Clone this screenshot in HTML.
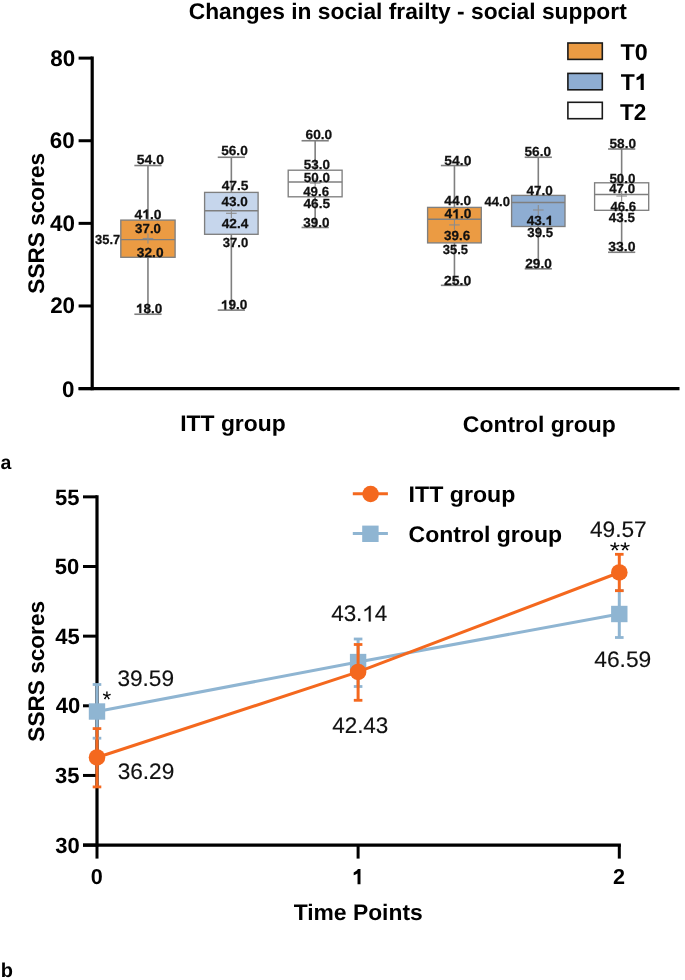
<!DOCTYPE html>
<html><head><meta charset="utf-8"><style>
html,body{margin:0;padding:0;background:#fff;}
svg{display:block;will-change:transform;filter:blur(0.4px);}
text{font-family:"Liberation Sans",sans-serif;text-rendering:geometricPrecision;}
</style></head><body>
<svg width="685" height="980" viewBox="0 0 685 980">
<rect width="685" height="980" fill="#fff"/>
<line x1="92.20" y1="56.62" x2="92.20" y2="390.20" stroke="#000" stroke-width="3.2"/>
<line x1="78.60" y1="388.60" x2="92.20" y2="388.60" stroke="#000" stroke-width="3.0"/>
<line x1="78.60" y1="305.98" x2="92.20" y2="305.98" stroke="#000" stroke-width="3.0"/>
<line x1="78.60" y1="223.36" x2="92.20" y2="223.36" stroke="#000" stroke-width="3.0"/>
<line x1="78.60" y1="140.74" x2="92.20" y2="140.74" stroke="#000" stroke-width="3.0"/>
<line x1="78.60" y1="58.12" x2="92.20" y2="58.12" stroke="#000" stroke-width="3.0"/>
<line x1="78.60" y1="388.60" x2="679.50" y2="388.60" stroke="#000" stroke-width="3.2"/>
<rect x="567.9" y="43.0" width="34.4" height="16.4" fill="#EB9B43" stroke="#1a1a1a" stroke-width="1.6"/>
<rect x="567.9" y="73.4" width="34.4" height="16.4" fill="#8EADD2" stroke="#1a1a1a" stroke-width="1.6"/>
<rect x="567.9" y="102.3" width="34.4" height="16.4" fill="#FFFFFF" stroke="#1a1a1a" stroke-width="1.6"/>
<line x1="147.95" y1="165.53" x2="147.95" y2="220.10" stroke="#7f7f7f" stroke-width="1.6"/>
<line x1="147.95" y1="257.30" x2="147.95" y2="314.24" stroke="#7f7f7f" stroke-width="1.6"/>
<line x1="134.35" y1="165.53" x2="161.55" y2="165.53" stroke="#7f7f7f" stroke-width="1.6"/>
<line x1="134.35" y1="314.24" x2="161.55" y2="314.24" stroke="#7f7f7f" stroke-width="1.6"/>
<rect x="120.80" y="220.10" width="54.30" height="37.20" fill="#EB9B43" stroke="#7f7f7f" stroke-width="1.35"/>
<line x1="120.80" y1="239.60" x2="175.10" y2="239.60" stroke="#7f7f7f" stroke-width="1.35"/>
<line x1="142.65" y1="238.50" x2="153.25" y2="238.50" stroke="#8c8c8c" stroke-width="1.1"/>
<line x1="147.95" y1="233.60" x2="147.95" y2="243.40" stroke="#8c8c8c" stroke-width="1.1"/>
<line x1="231.35" y1="157.26" x2="231.35" y2="192.40" stroke="#7f7f7f" stroke-width="1.6"/>
<line x1="231.35" y1="234.30" x2="231.35" y2="310.11" stroke="#7f7f7f" stroke-width="1.6"/>
<line x1="217.75" y1="157.26" x2="244.95" y2="157.26" stroke="#7f7f7f" stroke-width="1.6"/>
<line x1="217.75" y1="310.11" x2="244.95" y2="310.11" stroke="#7f7f7f" stroke-width="1.6"/>
<rect x="204.60" y="192.40" width="53.50" height="41.90" fill="#C6D6EC" stroke="#7f7f7f" stroke-width="1.35"/>
<line x1="204.60" y1="210.70" x2="258.10" y2="210.70" stroke="#7f7f7f" stroke-width="1.35"/>
<line x1="226.05" y1="213.30" x2="236.65" y2="213.30" stroke="#8c8c8c" stroke-width="1.1"/>
<line x1="231.35" y1="208.40" x2="231.35" y2="218.20" stroke="#8c8c8c" stroke-width="1.1"/>
<line x1="315.15" y1="140.74" x2="315.15" y2="170.20" stroke="#7f7f7f" stroke-width="1.6"/>
<line x1="315.15" y1="196.80" x2="315.15" y2="227.49" stroke="#7f7f7f" stroke-width="1.6"/>
<line x1="301.55" y1="140.74" x2="328.75" y2="140.74" stroke="#7f7f7f" stroke-width="1.6"/>
<line x1="301.55" y1="227.49" x2="328.75" y2="227.49" stroke="#7f7f7f" stroke-width="1.6"/>
<rect x="288.20" y="170.20" width="53.90" height="26.60" fill="#FFFFFF" stroke="#7f7f7f" stroke-width="1.35"/>
<line x1="288.20" y1="182.00" x2="342.10" y2="182.00" stroke="#7f7f7f" stroke-width="1.35"/>
<line x1="309.85" y1="183.10" x2="320.45" y2="183.10" stroke="#8c8c8c" stroke-width="1.1"/>
<line x1="315.15" y1="178.20" x2="315.15" y2="188.00" stroke="#8c8c8c" stroke-width="1.1"/>
<line x1="454.45" y1="165.53" x2="454.45" y2="207.40" stroke="#7f7f7f" stroke-width="1.6"/>
<line x1="454.45" y1="242.90" x2="454.45" y2="285.33" stroke="#7f7f7f" stroke-width="1.6"/>
<line x1="440.85" y1="165.53" x2="468.05" y2="165.53" stroke="#7f7f7f" stroke-width="1.6"/>
<line x1="440.85" y1="285.33" x2="468.05" y2="285.33" stroke="#7f7f7f" stroke-width="1.6"/>
<rect x="427.60" y="207.40" width="53.70" height="35.50" fill="#EB9B43" stroke="#7f7f7f" stroke-width="1.35"/>
<line x1="427.60" y1="219.20" x2="481.30" y2="219.20" stroke="#7f7f7f" stroke-width="1.35"/>
<line x1="449.15" y1="224.90" x2="459.75" y2="224.90" stroke="#8c8c8c" stroke-width="1.1"/>
<line x1="454.45" y1="220.00" x2="454.45" y2="229.80" stroke="#8c8c8c" stroke-width="1.1"/>
<line x1="538.30" y1="157.26" x2="538.30" y2="195.40" stroke="#7f7f7f" stroke-width="1.6"/>
<line x1="538.30" y1="226.50" x2="538.30" y2="268.80" stroke="#7f7f7f" stroke-width="1.6"/>
<line x1="524.70" y1="157.26" x2="551.90" y2="157.26" stroke="#7f7f7f" stroke-width="1.6"/>
<line x1="524.70" y1="268.80" x2="551.90" y2="268.80" stroke="#7f7f7f" stroke-width="1.6"/>
<rect x="511.60" y="195.40" width="53.40" height="31.10" fill="#8EADD2" stroke="#7f7f7f" stroke-width="1.35"/>
<line x1="511.60" y1="202.50" x2="565.00" y2="202.50" stroke="#7f7f7f" stroke-width="1.35"/>
<line x1="533.00" y1="210.00" x2="543.60" y2="210.00" stroke="#8c8c8c" stroke-width="1.1"/>
<line x1="538.30" y1="205.10" x2="538.30" y2="214.90" stroke="#8c8c8c" stroke-width="1.1"/>
<line x1="621.65" y1="149.00" x2="621.65" y2="182.80" stroke="#7f7f7f" stroke-width="1.6"/>
<line x1="621.65" y1="210.30" x2="621.65" y2="252.28" stroke="#7f7f7f" stroke-width="1.6"/>
<line x1="608.05" y1="149.00" x2="635.25" y2="149.00" stroke="#7f7f7f" stroke-width="1.6"/>
<line x1="608.05" y1="252.28" x2="635.25" y2="252.28" stroke="#7f7f7f" stroke-width="1.6"/>
<rect x="594.60" y="182.80" width="54.10" height="27.50" fill="#FFFFFF" stroke="#7f7f7f" stroke-width="1.35"/>
<line x1="594.60" y1="194.50" x2="648.70" y2="194.50" stroke="#7f7f7f" stroke-width="1.35"/>
<line x1="616.35" y1="196.00" x2="626.95" y2="196.00" stroke="#8c8c8c" stroke-width="1.1"/>
<line x1="621.65" y1="191.10" x2="621.65" y2="200.90" stroke="#8c8c8c" stroke-width="1.1"/>
<line x1="97.00" y1="495.35" x2="97.00" y2="846.60" stroke="#000" stroke-width="3.2"/>
<line x1="83.00" y1="845.10" x2="97.00" y2="845.10" stroke="#000" stroke-width="3.0"/>
<line x1="83.00" y1="775.45" x2="97.00" y2="775.45" stroke="#000" stroke-width="3.0"/>
<line x1="83.00" y1="705.80" x2="97.00" y2="705.80" stroke="#000" stroke-width="3.0"/>
<line x1="83.00" y1="636.15" x2="97.00" y2="636.15" stroke="#000" stroke-width="3.0"/>
<line x1="83.00" y1="566.50" x2="97.00" y2="566.50" stroke="#000" stroke-width="3.0"/>
<line x1="83.00" y1="496.85" x2="97.00" y2="496.85" stroke="#000" stroke-width="3.0"/>
<line x1="83.00" y1="845.10" x2="620.90" y2="845.10" stroke="#000" stroke-width="3.2"/>
<line x1="97.00" y1="845.10" x2="97.00" y2="858.60" stroke="#000" stroke-width="3.0"/>
<line x1="358.10" y1="845.10" x2="358.10" y2="858.60" stroke="#000" stroke-width="3.0"/>
<line x1="619.30" y1="845.10" x2="619.30" y2="858.60" stroke="#000" stroke-width="3.0"/>
<polyline points="97.0,711.51 358.1,662.06 619.3,614.00" fill="none" stroke="#8FB5D2" stroke-width="3"/>
<line x1="97.00" y1="684.50" x2="97.00" y2="738.20" stroke="#8FB5D2" stroke-width="3"/>
<line x1="92.70" y1="684.50" x2="101.30" y2="684.50" stroke="#8FB5D2" stroke-width="2.8"/>
<line x1="92.70" y1="738.20" x2="101.30" y2="738.20" stroke="#8FB5D2" stroke-width="2.8"/>
<rect x="88.80" y="703.31" width="16.4" height="16.4" fill="#8FB5D2"/>
<line x1="358.10" y1="639.00" x2="358.10" y2="686.50" stroke="#8FB5D2" stroke-width="3"/>
<line x1="353.80" y1="639.00" x2="362.40" y2="639.00" stroke="#8FB5D2" stroke-width="2.8"/>
<line x1="353.80" y1="686.50" x2="362.40" y2="686.50" stroke="#8FB5D2" stroke-width="2.8"/>
<rect x="349.90" y="653.86" width="16.4" height="16.4" fill="#8FB5D2"/>
<line x1="619.30" y1="590.60" x2="619.30" y2="637.50" stroke="#8FB5D2" stroke-width="3"/>
<line x1="615.00" y1="590.60" x2="623.60" y2="590.60" stroke="#8FB5D2" stroke-width="2.8"/>
<line x1="615.00" y1="637.50" x2="623.60" y2="637.50" stroke="#8FB5D2" stroke-width="2.8"/>
<rect x="611.10" y="605.80" width="16.4" height="16.4" fill="#8FB5D2"/>
<polyline points="97.0,757.48 358.1,671.95 619.3,572.49" fill="none" stroke="#F4681E" stroke-width="3"/>
<line x1="97.00" y1="728.60" x2="97.00" y2="786.90" stroke="#F4681E" stroke-width="3"/>
<line x1="92.70" y1="728.60" x2="101.30" y2="728.60" stroke="#F4681E" stroke-width="2.8"/>
<line x1="92.70" y1="786.90" x2="101.30" y2="786.90" stroke="#F4681E" stroke-width="2.8"/>
<circle cx="97.0" cy="757.48" r="8.3" fill="#F4681E"/>
<line x1="358.10" y1="644.50" x2="358.10" y2="700.30" stroke="#F4681E" stroke-width="3"/>
<line x1="353.80" y1="644.50" x2="362.40" y2="644.50" stroke="#F4681E" stroke-width="2.8"/>
<line x1="353.80" y1="700.30" x2="362.40" y2="700.30" stroke="#F4681E" stroke-width="2.8"/>
<circle cx="358.1" cy="671.95" r="8.3" fill="#F4681E"/>
<line x1="619.30" y1="554.30" x2="619.30" y2="590.70" stroke="#F4681E" stroke-width="3"/>
<line x1="615.00" y1="554.30" x2="623.60" y2="554.30" stroke="#F4681E" stroke-width="2.8"/>
<line x1="615.00" y1="590.70" x2="623.60" y2="590.70" stroke="#F4681E" stroke-width="2.8"/>
<circle cx="619.3" cy="572.49" r="8.3" fill="#F4681E"/>
<line x1="352.80" y1="493.80" x2="387.90" y2="493.80" stroke="#F4681E" stroke-width="3"/>
<circle cx="370.6" cy="494" r="8.3" fill="#F4681E"/>
<line x1="352.80" y1="533.60" x2="387.90" y2="533.60" stroke="#8FB5D2" stroke-width="3"/>
<rect x="362.2" y="525.6" width="16.4" height="16.4" fill="#8FB5D2"/>
<g id="title" class="t"><text x="188.71" y="19.38" font-size="22.60" font-weight="bold" fill="#000" textLength="438.04" lengthAdjust="spacingAndGlyphs">Changes in social frailty - social support</text></g>
<g id="ya80" class="t"><text x="50.19" y="65.74" font-size="22.40" font-weight="bold" fill="#000">80</text></g>
<g id="ya60" class="t"><text x="49.73" y="148.24" font-size="22.40" font-weight="bold" fill="#000">60</text></g>
<g id="ya40" class="t"><text x="49.96" y="230.75" font-size="22.40" font-weight="bold" fill="#000">40</text></g>
<g id="ya20" class="t"><text x="50.13" y="313.26" font-size="22.40" font-weight="bold" fill="#000">20</text></g>
<g id="ya0" class="t"><text x="61.89" y="396.57" font-size="22.40" font-weight="bold" fill="#000">0</text></g>
<g id="cat_itt" class="t"><text x="180.22" y="431.34" font-size="22.50" font-weight="bold" fill="#000" textLength="105.50" lengthAdjust="spacingAndGlyphs">ITT group</text></g>
<g id="cat_ctl" class="t"><text x="462.83" y="432.01" font-size="22.50" font-weight="bold" fill="#000" textLength="153.06" lengthAdjust="spacingAndGlyphs">Control group</text></g>
<g id="T0" class="t"><text x="620.45" y="59.93" font-size="23.00" font-weight="bold" fill="#000" textLength="27.22" lengthAdjust="spacingAndGlyphs">T0</text></g>
<g id="T1" class="t"><text x="620.64" y="89.89" font-size="23.00" font-weight="bold" fill="#000" textLength="26.80" lengthAdjust="spacingAndGlyphs">T </text><path transform="translate(634.67,89.89) scale(0.01121,-0.01123)" d="M811,0 L530,0 L530,1020 C420,940 300,880 165,850 L165,1110 C330,1165 470,1270 565,1430 L811,1430 Z" fill="#000"/></g>
<g id="T2" class="t"><text x="620.05" y="119.66" font-size="23.00" font-weight="bold" fill="#000" textLength="26.38" lengthAdjust="spacingAndGlyphs">T2</text></g>
<g id="lb0" class="t"><text x="136.77" y="164.15" font-size="13.20" font-weight="bold" fill="#111" textLength="27.21" lengthAdjust="spacingAndGlyphs" stroke="#111" stroke-width="0.25">54.0</text></g>
<g id="lb1" class="t"><text x="134.54" y="218.66" font-size="13.20" font-weight="bold" fill="#111" textLength="26.99" lengthAdjust="spacingAndGlyphs" stroke="#111" stroke-width="0.25">4 .0</text><path transform="translate(142.25,218.66) scale(0.00677,-0.00645)" d="M811,0 L530,0 L530,1020 C420,940 300,880 165,850 L165,1110 C330,1165 470,1270 565,1430 L811,1430 Z" fill="#111" stroke="#111" stroke-width="38.8"/></g>
<g id="lb2" class="t"><text x="135.11" y="232.71" font-size="13.20" font-weight="bold" fill="#111" textLength="25.87" lengthAdjust="spacingAndGlyphs" stroke="#111" stroke-width="0.25">37.0</text></g>
<g id="lb3" class="t"><text x="95.08" y="244.44" font-size="13.20" font-weight="bold" fill="#111" textLength="25.12" lengthAdjust="spacingAndGlyphs" stroke="#111" stroke-width="0.25">35.7</text></g>
<g id="lb4" class="t"><text x="136.83" y="256.93" font-size="13.20" font-weight="bold" fill="#111" textLength="26.69" lengthAdjust="spacingAndGlyphs" stroke="#111" stroke-width="0.25">32.0</text></g>
<g id="lb5" class="t"><text x="135.88" y="313.05" font-size="13.20" font-weight="bold" fill="#111" textLength="26.43" lengthAdjust="spacingAndGlyphs" stroke="#111" stroke-width="0.25"> 8.0</text><path transform="translate(135.88,313.05) scale(0.00663,-0.00645)" d="M811,0 L530,0 L530,1020 C420,940 300,880 165,850 L165,1110 C330,1165 470,1270 565,1430 L811,1430 Z" fill="#111" stroke="#111" stroke-width="38.8"/></g>
<g id="lb6" class="t"><text x="221.22" y="154.93" font-size="13.20" font-weight="bold" fill="#111" textLength="26.51" lengthAdjust="spacingAndGlyphs" stroke="#111" stroke-width="0.25">56.0</text></g>
<g id="lb7" class="t"><text x="221.68" y="190.42" font-size="13.20" font-weight="bold" fill="#111" textLength="26.89" lengthAdjust="spacingAndGlyphs" stroke="#111" stroke-width="0.25">47.5</text></g>
<g id="lb8" class="t"><text x="221.42" y="206.27" font-size="13.20" font-weight="bold" fill="#111" textLength="26.33" lengthAdjust="spacingAndGlyphs" stroke="#111" stroke-width="0.25">43.0</text></g>
<g id="lb9" class="t"><text x="221.68" y="228.40" font-size="13.20" font-weight="bold" fill="#111" textLength="26.61" lengthAdjust="spacingAndGlyphs" stroke="#111" stroke-width="0.25">42.4</text></g>
<g id="lb10" class="t"><text x="222.83" y="247.32" font-size="13.20" font-weight="bold" fill="#111" textLength="25.44" lengthAdjust="spacingAndGlyphs" stroke="#111" stroke-width="0.25">37.0</text></g>
<g id="lb11" class="t"><text x="220.83" y="309.39" font-size="13.20" font-weight="bold" fill="#111" textLength="26.55" lengthAdjust="spacingAndGlyphs" stroke="#111" stroke-width="0.25"> 9.0</text><path transform="translate(220.83,309.39) scale(0.00666,-0.00645)" d="M811,0 L530,0 L530,1020 C420,940 300,880 165,850 L165,1110 C330,1165 470,1270 565,1430 L811,1430 Z" fill="#111" stroke="#111" stroke-width="38.8"/></g>
<g id="lb12" class="t"><text x="305.61" y="139.37" font-size="13.20" font-weight="bold" fill="#111" textLength="26.61" lengthAdjust="spacingAndGlyphs" stroke="#111" stroke-width="0.25">60.0</text></g>
<g id="lb13" class="t"><text x="303.88" y="168.71" font-size="13.20" font-weight="bold" fill="#111" textLength="26.19" lengthAdjust="spacingAndGlyphs" stroke="#111" stroke-width="0.25">53.0</text></g>
<g id="lb14" class="t"><text x="303.88" y="182.15" font-size="13.20" font-weight="bold" fill="#111" textLength="26.19" lengthAdjust="spacingAndGlyphs" stroke="#111" stroke-width="0.25">50.0</text></g>
<g id="lb15" class="t"><text x="303.20" y="195.83" font-size="13.20" font-weight="bold" fill="#111" textLength="25.88" lengthAdjust="spacingAndGlyphs" stroke="#111" stroke-width="0.25">49.6</text></g>
<g id="lb16" class="t"><text x="303.40" y="208.44" font-size="13.20" font-weight="bold" fill="#111" textLength="26.67" lengthAdjust="spacingAndGlyphs" stroke="#111" stroke-width="0.25">46.5</text></g>
<g id="lb17" class="t"><text x="303.21" y="226.88" font-size="13.20" font-weight="bold" fill="#111" textLength="26.22" lengthAdjust="spacingAndGlyphs" stroke="#111" stroke-width="0.25">39.0</text></g>
<g id="lb18" class="t"><text x="444.38" y="164.88" font-size="13.20" font-weight="bold" fill="#111" textLength="27.02" lengthAdjust="spacingAndGlyphs" stroke="#111" stroke-width="0.25">54.0</text></g>
<g id="lb19" class="t"><text x="444.38" y="205.43" font-size="13.20" font-weight="bold" fill="#111" textLength="26.88" lengthAdjust="spacingAndGlyphs" stroke="#111" stroke-width="0.25">44.0</text></g>
<g id="lb20" class="t"><text x="444.58" y="218.43" font-size="13.20" font-weight="bold" fill="#111" textLength="26.78" lengthAdjust="spacingAndGlyphs" stroke="#111" stroke-width="0.25">4 .0</text><path transform="translate(452.23,218.43) scale(0.00672,-0.00645)" d="M811,0 L530,0 L530,1020 C420,940 300,880 165,850 L165,1110 C330,1165 470,1270 565,1430 L811,1430 Z" fill="#111" stroke="#111" stroke-width="38.8"/></g>
<g id="lb21" class="t"><text x="444.11" y="240.22" font-size="13.20" font-weight="bold" fill="#111" textLength="26.15" lengthAdjust="spacingAndGlyphs" stroke="#111" stroke-width="0.25">39.6</text></g>
<g id="lb22" class="t"><text x="442.77" y="254.44" font-size="13.20" font-weight="bold" fill="#111" textLength="25.32" lengthAdjust="spacingAndGlyphs" stroke="#111" stroke-width="0.25">35.5</text></g>
<g id="lb23" class="t"><text x="444.00" y="284.61" font-size="13.20" font-weight="bold" fill="#111" textLength="27.17" lengthAdjust="spacingAndGlyphs" stroke="#111" stroke-width="0.25">25.0</text></g>
<g id="lb24" class="t"><text x="524.54" y="156.10" font-size="13.20" font-weight="bold" fill="#111" textLength="26.54" lengthAdjust="spacingAndGlyphs" stroke="#111" stroke-width="0.25">56.0</text></g>
<g id="lb25" class="t"><text x="526.56" y="194.78" font-size="13.20" font-weight="bold" fill="#111" textLength="26.35" lengthAdjust="spacingAndGlyphs" stroke="#111" stroke-width="0.25">47.0</text></g>
<g id="lb26" class="t"><text x="484.56" y="206.21" font-size="13.20" font-weight="bold" fill="#111" textLength="25.42" lengthAdjust="spacingAndGlyphs" stroke="#111" stroke-width="0.25">44.0</text></g>
<g id="lb27" class="t"><text x="526.65" y="225.05" font-size="13.20" font-weight="bold" fill="#111" textLength="26.43" lengthAdjust="spacingAndGlyphs" stroke="#111" stroke-width="0.25">43. </text><path transform="translate(545.53,225.05) scale(0.00663,-0.00645)" d="M811,0 L530,0 L530,1020 C420,940 300,880 165,850 L165,1110 C330,1165 470,1270 565,1430 L811,1430 Z" fill="#111" stroke="#111" stroke-width="38.8"/></g>
<g id="lb28" class="t"><text x="527.27" y="237.44" font-size="13.20" font-weight="bold" fill="#111" textLength="25.78" lengthAdjust="spacingAndGlyphs" stroke="#111" stroke-width="0.25">39.5</text></g>
<g id="lb29" class="t"><text x="525.27" y="268.49" font-size="13.20" font-weight="bold" fill="#111" textLength="26.58" lengthAdjust="spacingAndGlyphs" stroke="#111" stroke-width="0.25">29.0</text></g>
<g id="lb30" class="t"><text x="609.54" y="148.10" font-size="13.20" font-weight="bold" fill="#111" textLength="26.54" lengthAdjust="spacingAndGlyphs" stroke="#111" stroke-width="0.25">58.0</text></g>
<g id="lb31" class="t"><text x="609.40" y="182.50" font-size="13.20" font-weight="bold" fill="#111" textLength="26.06" lengthAdjust="spacingAndGlyphs" stroke="#111" stroke-width="0.25">50.0</text></g>
<g id="lb32" class="t"><text x="609.20" y="193.00" font-size="13.20" font-weight="bold" fill="#111" textLength="25.95" lengthAdjust="spacingAndGlyphs" stroke="#111" stroke-width="0.25">47.0</text></g>
<g id="lb33" class="t"><text x="610.40" y="210.90" font-size="13.20" font-weight="bold" fill="#111" textLength="25.78" lengthAdjust="spacingAndGlyphs" stroke="#111" stroke-width="0.25">46.6</text></g>
<g id="lb34" class="t"><text x="608.76" y="221.93" font-size="13.20" font-weight="bold" fill="#111" textLength="26.09" lengthAdjust="spacingAndGlyphs" stroke="#111" stroke-width="0.25">43.5</text></g>
<g id="lb35" class="t"><text x="608.22" y="250.88" font-size="13.20" font-weight="bold" fill="#111" textLength="27.28" lengthAdjust="spacingAndGlyphs" stroke="#111" stroke-width="0.25">33.0</text></g>
<g id="yb55" class="t"><text x="55.01" y="504.54" font-size="22.00" font-weight="bold" fill="#000">55</text></g>
<g id="yb50" class="t"><text x="54.78" y="574.26" font-size="22.00" font-weight="bold" fill="#000">50</text></g>
<g id="yb45" class="t"><text x="55.18" y="643.76" font-size="22.00" font-weight="bold" fill="#000">45</text></g>
<g id="yb40" class="t"><text x="55.74" y="713.48" font-size="22.00" font-weight="bold" fill="#000">40</text></g>
<g id="yb35" class="t"><text x="55.07" y="783.09" font-size="22.00" font-weight="bold" fill="#000">35</text></g>
<g id="yb30" class="t"><text x="55.23" y="852.70" font-size="22.00" font-weight="bold" fill="#000">30</text></g>
<g id="xb0" class="t"><text x="90.67" y="884.05" font-size="21.60" font-weight="bold" fill="#000">0</text></g>
<g id="xb1" class="t"><text x="351.94" y="884.17" font-size="21.60" font-weight="bold" fill="#000"> </text><path transform="translate(351.94,884.17) scale(0.01055,-0.01055)" d="M811,0 L530,0 L530,1020 C420,940 300,880 165,850 L165,1110 C330,1165 470,1270 565,1430 L811,1430 Z" fill="#000"/></g>
<g id="xb2" class="t"><text x="613.00" y="884.16" font-size="21.60" font-weight="bold" fill="#000">2</text></g>
<g id="tp" class="t"><text x="293.65" y="920.38" font-size="22.50" font-weight="bold" fill="#000" textLength="129.11" lengthAdjust="spacingAndGlyphs">Time Points</text></g>
<g id="leg_itt" class="t"><text x="408.62" y="501.80" font-size="22.50" font-weight="bold" fill="#000" textLength="106.75" lengthAdjust="spacingAndGlyphs">ITT group</text></g>
<g id="leg_ctl" class="t"><text x="408.52" y="541.96" font-size="22.50" font-weight="bold" fill="#000" textLength="153.51" lengthAdjust="spacingAndGlyphs">Control group</text></g>
<g id="vl0" class="t"><text x="117.41" y="685.53" font-size="22.50" font-weight="normal" fill="#111" textLength="56.63" lengthAdjust="spacingAndGlyphs" stroke="#111" stroke-width="0.15">39.59</text></g>
<g id="vl1" class="t"><text x="117.66" y="778.65" font-size="22.50" font-weight="normal" fill="#111" textLength="56.64" lengthAdjust="spacingAndGlyphs" stroke="#111" stroke-width="0.15">36.29</text></g>
<g id="vl2" class="t"><text x="331.16" y="621.43" font-size="22.50" font-weight="normal" fill="#111" textLength="56.17" lengthAdjust="spacingAndGlyphs" stroke="#111" stroke-width="0.15">43. 4</text><path transform="translate(362.36,621.43) scale(0.01096,-0.01099)" d="M763,0 L583,0 L583,1147 C515,1082 420,1020 330,975 C270,945 230,930 193,918 L193,1092 C290,1130 400,1200 480,1275 C560,1340 615,1400 647,1430 L763,1430 Z" fill="#111" stroke="#111" stroke-width="13.7"/></g>
<g id="vl3" class="t"><text x="332.18" y="732.97" font-size="22.50" font-weight="normal" fill="#111" textLength="56.16" lengthAdjust="spacingAndGlyphs" stroke="#111" stroke-width="0.15">42.43</text></g>
<g id="vl4" class="t"><text x="589.99" y="536.75" font-size="22.50" font-weight="normal" fill="#111" textLength="56.74" lengthAdjust="spacingAndGlyphs" stroke="#111" stroke-width="0.15">49.57</text></g>
<g id="vl5" class="t"><text x="594.31" y="667.43" font-size="22.50" font-weight="normal" fill="#111" textLength="56.96" lengthAdjust="spacingAndGlyphs" stroke="#111" stroke-width="0.15">46.59</text></g>
<g id="ast1" class="t"><text x="102.56" y="707.14" font-size="22.50" font-weight="normal" fill="#000">*</text></g>
<g id="ast2" class="t"><text x="609.87" y="557.75" font-size="22.50" font-weight="normal" fill="#000" textLength="20.45" lengthAdjust="spacingAndGlyphs">**</text></g>
<g id="la" class="t"><text x="0.41" y="468.56" font-size="19.50" font-weight="bold" fill="#000">a</text></g>
<g id="lb" class="t"><text x="0.87" y="976.92" font-size="20.00" font-weight="bold" fill="#000">b</text></g>
<g id="ssrs_a" class="t"><text transform="translate(44.40,223.30) rotate(-90) scale(1.0000,1.0000)" text-anchor="middle" font-size="22.60" font-weight="bold">SSRS scores</text></g>
<g id="ssrs_b" class="t"><text transform="translate(44.30,671.30) rotate(-90) scale(1.0000,1.0000)" text-anchor="middle" font-size="22.60" font-weight="bold">SSRS scores</text></g>
</svg>
</body></html>
